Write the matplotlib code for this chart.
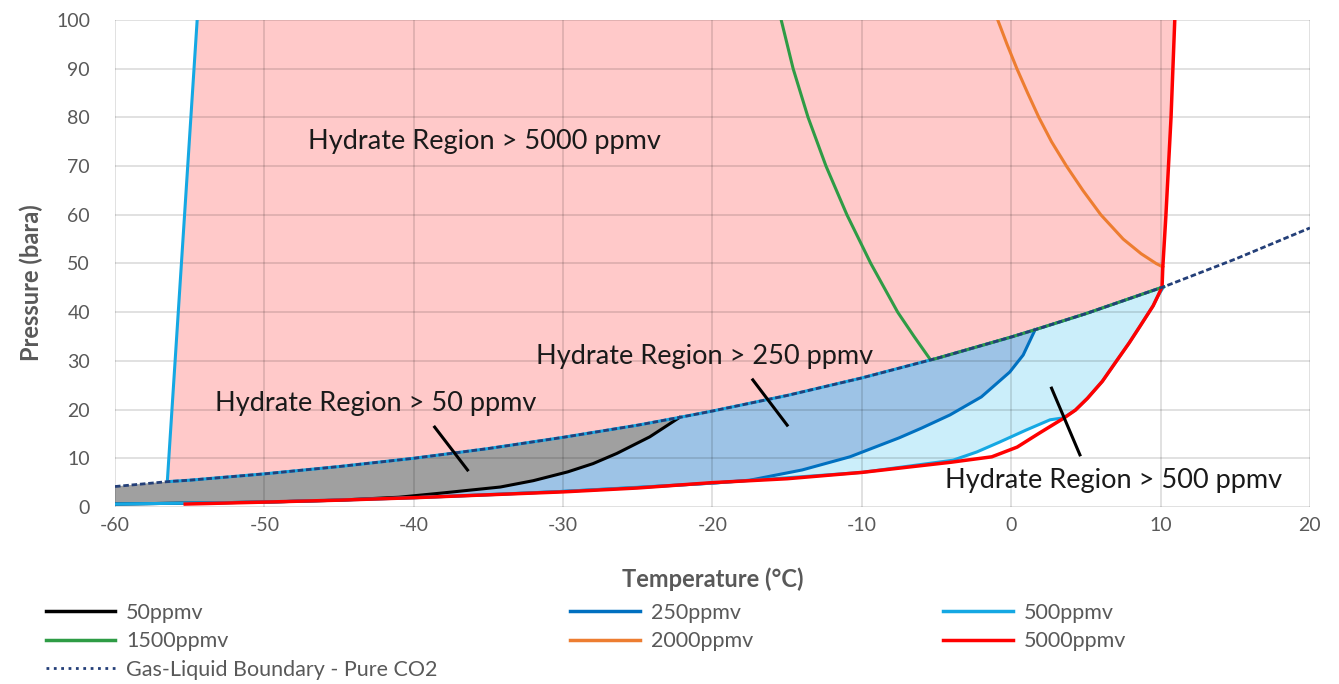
import numpy as np
import matplotlib
matplotlib.use("Agg")
import matplotlib.pyplot as plt
from matplotlib.lines import Line2D

plt.rcParams['font.family'] = ['Lato', 'DejaVu Sans']
plt.rcParams['axes.unicode_minus'] = False

# Gas-liquid boundary of pure CO2 (temperature degC, pressure bara)
gl_T = [-60, -56.5, -55, -50, -45, -40, -35, -30, -25, -22.2, -20, -15, -10, -5.4, -5, 0, 1.6, 5, 10, 10.2, 15, 20]
gl_P = [4.2, 5.2, 5.5, 6.8, 8.3, 10.0, 12.0, 14.3, 16.8, 18.4, 19.7, 22.9, 26.5, 30.2, 30.5, 34.9, 36.4, 39.7, 45.0, 45.2, 50.9, 57.3]

# hydrate curves for each water content
p50_T = [-60, -55, -50, -45, -41, -38, -34.2, -32, -29.7, -28, -26.4, -24.2, -22.2]
p50_P = [0.6, 0.8, 1.0, 1.4, 2.0, 2.9, 4.1, 5.4, 7.2, 8.9, 11.0, 14.4, 18.4]

p250_T = [-60, -55, -50, -45, -40, -35, -30, -25, -20, -17.5, -14, -10.8, -7.5, -6, -4.1, -2, -0.1, 0.8, 1.6]
p250_P = [0.6, 0.8, 1.0, 1.4, 1.9, 2.5, 3.2, 4.0, 4.9, 5.5, 7.6, 10.3, 14.2, 16.2, 18.9, 22.6, 27.7, 31.2, 36.4]

p500_T = [-60, -50, -40, -30, -20, -10, -3.9, -2.3, -0.8, 1.0, 2.6, 3.5, 4.3, 5.1, 6.1, 7.1, 7.9, 8.6, 9.5, 9.8, 10.2]
p500_P = [0.6, 1.0, 1.9, 3.2, 4.9, 7.1, 9.6, 11.3, 13.3, 15.8, 17.9, 18.3, 19.9, 22.3, 25.8, 30.2, 33.7, 37.0, 41.3, 43.2, 45.2]
p500_edge_T = [-54.5, -56.5]
p500_edge_P = [100, 5.2]

p1500_T = [-15.4, -15.0, -14.6, -14.1, -13.6, -13.0, -12.4, -11.7, -11.0, -10.2, -9.4, -8.5, -7.6, -6.5, -5.4]
p1500_P = [100, 95, 90, 85, 80, 75, 70, 65, 60, 55, 50, 45, 40, 35, 30.2]

p2000_T = [-0.9, -0.28, 0.38, 1.1, 1.85, 2.7, 3.7, 4.8, 6.0, 7.5, 8.7, 9.7, 10.15]
p2000_P = [100, 95, 90, 85, 80, 75, 70, 65, 60, 55, 52, 50, 49.3]

p5000_T = [-55.3, -50, -45, -40, -35, -30, -25, -20, -15, -10, -4, -1.3, 0.4, 1.9, 3.5, 4.3, 5.1, 6.1, 7.1,
           7.9, 8.6, 9.5, 9.8, 10.1, 10.15, 10.35, 10.7, 10.95]
p5000_P = [0.6, 1.0, 1.4, 1.9, 2.5, 3.1, 3.9, 5.0, 5.8, 7.1, 9.2, 10.3, 12.3, 15.2, 18.2, 19.9, 22.3, 25.8, 30.2,
           33.7, 37.0, 41.3, 43.2, 45.2, 49.3, 59.5, 80, 100]

# region labels and their leader lines
region_labels = ["Hydrate Region > 5000 ppmv", "Hydrate Region > 250 ppmv",
                 "Hydrate Region > 50 ppmv", "Hydrate Region > 500 ppmv"]
label_T = [-47.1, -31.8, -53.3, -4.4]
label_P = [75.0, 30.8, 21.2, 5.5]
leader_T = [(-38.6, -36.4), (-17.3, -15.0), (2.7, 4.6)]
leader_P = [(16.4, 7.6), (26.1, 16.8), (24.4, 10.7)]

gl_T = np.array(gl_T)
gl_P = np.array(gl_P)


def boundary(t0, t1):
    m = (gl_T >= t0) & (gl_T <= t1)
    return gl_T[m], gl_P[m]


fig = plt.figure(figsize=(13.39, 6.84), dpi=100)
ax = fig.add_axes([0.0859, 0.2588, 0.8924, 0.712])

# filled regions
bt, bp = boundary(-56.5, 10.2)
red_T = np.array(p5000_T)
red_P = np.array(p5000_P)
up = red_P >= 45.2
pink_T = np.concatenate([[-56.5, -54.5], red_T[up][::-1], bt[::-1]])
pink_P = np.concatenate([[5.2, 100], red_P[up][::-1], bp[::-1]])
ax.fill(pink_T, pink_P, color='#FFC9C9', lw=0, zorder=1)

bt, bp = boundary(-60, 10.2)
ax.fill(np.concatenate([bt, p500_T[::-1]]), np.concatenate([bp, p500_P[::-1]]),
        color='#CBEEFA', lw=0, zorder=1)
bt, bp = boundary(-60, 1.6)
ax.fill(np.concatenate([bt, p250_T[::-1]]), np.concatenate([bp, p250_P[::-1]]),
        color='#9DC3E6', lw=0, zorder=1)
bt, bp = boundary(-60, -22.2)
ax.fill(np.concatenate([bt, p50_T[::-1]]), np.concatenate([bp, p50_P[::-1]]),
        color='#A0A0A0', lw=0, zorder=1)

# curves
c50, c250, c500 = '#000000', '#0070C0', '#15A8E3'
c1500, c2000, c5000, cgl = '#2E9C45', '#ED7D31', '#FF0000', '#243F78'
ax.plot(p50_T, p50_P, color=c50, lw=2.2, zorder=3)
ax.plot(p250_T, p250_P, color=c250, lw=2.2, zorder=3)
ax.plot(p500_T, p500_P, color=c500, lw=2.2, zorder=3)
bt, bp = boundary(-56.5, 10.2)
ax.plot(np.concatenate([p500_edge_T, bt]), np.concatenate([p500_edge_P, bp]),
        color=c500, lw=2.2, zorder=3)
bt, bp = boundary(-5.4, 10.2)
ax.plot(np.concatenate([p1500_T, bt]), np.concatenate([p1500_P, bp]),
        color=c1500, lw=2.2, zorder=3)
ax.plot(p2000_T, p2000_P, color=c2000, lw=2.2, zorder=3)
ax.plot(p5000_T, p5000_P, color=c5000, lw=2.5, zorder=4)
ax.plot(gl_T, gl_P, color=cgl, lw=2.0, ls=(0, (2, 1)), zorder=5)

for txt, t, p in zip(region_labels, label_T, label_P):
    ax.text(t, p, txt, fontsize=19.5, color='#1a1a1a', va='center', ha='left', zorder=6)
for lt, lp in zip(leader_T, leader_P):
    ax.plot(lt, lp, color='black', lw=2.2, zorder=6)

ax.set_xlim(-60, 20)
ax.set_ylim(0, 100)
ax.set_xticks(np.arange(-60, 21, 10))
ax.set_yticks(np.arange(0, 101, 10))
ax.set_axisbelow('line')
ax.grid(True, color='black', alpha=0.14, lw=1.2)
for s in ax.spines.values():
    s.set_visible(False)
ax.tick_params(length=0, labelsize=14, labelcolor='#595959')
ax.tick_params(axis='x', pad=7)
ax.tick_params(axis='y', pad=18)
ax.set_xlabel('Temperature (°C)', fontsize=17, fontweight='bold', color='#595959', labelpad=24)
ax.set_ylabel('Pressure (bara)', fontsize=17, fontweight='bold', color='#595959')
ax.yaxis.set_label_coords(-0.060, 0.46)

# legend laid out in three columns like the original
cols = [
    (0.034, [(c50, '-', '50ppmv'), (c1500, '-', '1500ppmv'), (cgl, ':', 'Gas-Liquid Boundary - Pure CO2')]),
    (0.426, [(c250, '-', '250ppmv'), (c2000, '-', '2000ppmv')]),
    (0.704, [(c500, '-', '500ppmv'), (c5000, '-', '5000ppmv')]),
]
for x0, items in cols:
    handles = [Line2D([], [], color=c, ls=ls, lw=2.5 if ls == '-' else 2.0) for c, ls, _ in items]
    labels = [lab for _, _, lab in items]
    leg = fig.legend(handles, labels, loc='upper left', bbox_to_anchor=(x0, 0.119),
                     frameon=False, fontsize=15.5, handlelength=3.25, handletextpad=0.5,
                     labelspacing=0.40, borderpad=0, borderaxespad=0)
    for t in leg.get_texts():
        t.set_color('#595959')

fig.savefig('out.png', dpi=100)
